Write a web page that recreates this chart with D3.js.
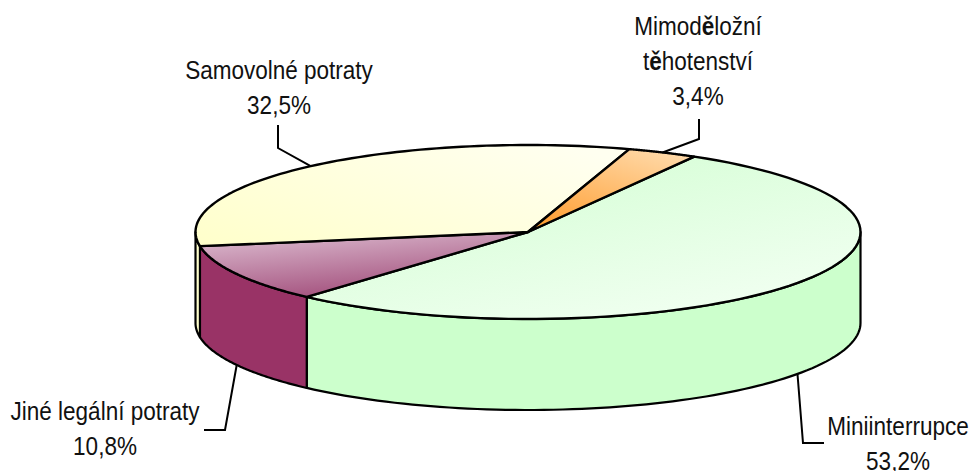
<!DOCTYPE html>
<html>
<head>
<meta charset="utf-8">
<script src="https://cdn.jsdelivr.net/npm/d3@7"></script>
<style>
    html, body { margin: 0; background: #fff; }
    text { font-family: "Liberation Sans", Arial, sans-serif; font-size: 26.5px; fill: #111; }
</style>
</head>
<body>
<svg id="chart" width="972" height="471"></svg>
<script>
const categories = ["Miniinterrupce", "Jiné legální potraty", "Samovolné potraty", "Mimoděložní těhotenství"];
const values = [53.2, 10.8, 32.5, 3.4];
const valueLabels = ["53,2%", "10,8%", "32,5%", "3,4%"];
const sideColors = ["#ccffcc", "#993366", "#ffffcc", "#ffcc99"];

const width = 972, height = 471;
const cx = 528, cy = 232, rx = 332.5, ry = 87, depth = 91;
const textSquash = 0.85, lineHeight = 35;

// top gradients, one per slice: direction and the two end colours
const gradients = [
    {x1: 0.1, y1: 0, x2: 0.8, y2: 1, from: "#d2fed2", to: "#f2fff2"},
    {x1: 0.15, y1: 0, x2: 0.6, y2: 1, from: "#dcbcd0", to: "#a04a78"},
    {x1: 0, y1: 0.9, x2: 1, y2: 0.2, from: "#ffffcc", to: "#fffff0"},
    {x1: 0.8, y1: 0, x2: 0.2, y2: 1, from: "#ffd9a8", to: "#ff9f33"}
];

// label blocks and leader elbows, per slice
const layout = [
    {x: 898, y: 435, lines: ["Miniinterrupce"], elbow: [[803, 443], [824, 443]], front: true},
    {x: 105, y: 420, lines: ["Jiné legální potraty"], elbow: [[225, 430], [204, 430]], front: true},
    {x: 279, y: 79, lines: ["Samovolné potraty"], elbow: [[278, 148], [278, 125]], front: false},
    {x: 698, y: 35, lines: ["Mimoděložní", "těhotenství"], elbow: [[699, 139], [699, 119]], front: false}
];

const svg = d3.select("#chart");
const defs = svg.append("defs");

const x = d3.scaleLinear().domain([-1, 1]).range([cx - rx, cx + rx]);
const y = d3.scaleLinear().domain([-1, 1]).range([cy + ry, cy - ry]);

const pie = d3.pie().sort(null).value(d => d)
    .startAngle(30 * Math.PI / 180)
    .endAngle((360 + 30) * Math.PI / 180);
const arcs = pie(values);

const line = d3.line();
const rim = (a, dy = 0) => [x(Math.sin(a)), y(Math.cos(a)) + dy];
const sweep = (a0, a1) => d3.range(0, 1.0001, 1 / 80).map(t => a0 + (a1 - a0) * t);

gradients.forEach((g, i) => {
    const grad = defs.append("linearGradient").attr("id", "top" + i)
        .attr("x1", g.x1).attr("y1", g.y1).attr("x2", g.x2).attr("y2", g.y2);
    grad.append("stop").attr("offset", 0).attr("stop-color", g.from);
    grad.append("stop").attr("offset", 1).attr("stop-color", g.to);
});

// side wall: only the part of each slice facing the viewer (90deg..270deg from top)
const wallFrom = Math.PI / 2, wallTo = 3 * Math.PI / 2;
arcs.forEach((d, i) => {
    [0, 2 * Math.PI].forEach(turn => {
        const a0 = Math.max(d.startAngle - turn, wallFrom);
        const a1 = Math.min(d.endAngle - turn, wallTo);
        if (a1 <= a0) return;
        const angles = sweep(a0, a1);
        const pts = angles.map(a => rim(a)).concat(angles.slice().reverse().map(a => rim(a, depth)));
        svg.append("path")
            .attr("d", line(pts) + "Z")
            .attr("fill", sideColors[i])
            .attr("stroke", "#000")
            .attr("stroke-width", 2.2)
            .attr("stroke-linejoin", "round");
    });
});

// top slices
arcs.forEach((d, i) => {
    const pts = [[x(0), y(0)]].concat(sweep(d.startAngle, d.endAngle).map(a => rim(a)));
    svg.append("path")
        .attr("d", line(pts) + "Z")
        .attr("fill", `url(#top${i})`)
        .attr("stroke", "#000")
        .attr("stroke-width", 2.4)
        .attr("stroke-linejoin", "round");
});

// leaders and labels
arcs.forEach((d, i) => {
    const l = layout[i];
    const mid = (d.startAngle + d.endAngle) / 2;
    const start = rim(mid, l.front ? depth : 0);
    svg.append("path")
        .attr("d", line([start].concat(l.elbow)))
        .attr("fill", "none")
        .attr("stroke", "#000")
        .attr("stroke-width", 2);

    const text = svg.append("text")
        .attr("text-anchor", "middle")
        .attr("transform", `translate(${l.x},${l.y}) scale(${textSquash},1)`);
    l.lines.concat(valueLabels[i]).forEach((s, k) => {
        const row = text.append("tspan").attr("x", 0).attr("y", k * lineHeight);
        // the reference falls back to a heavier glyph for the ě
        s.split(/(ě)/).filter(Boolean).forEach(part => {
            row.append("tspan").attr("font-weight", part === "ě" ? "bold" : null).text(part);
        });
    });
});
</script>
</body>
</html>
